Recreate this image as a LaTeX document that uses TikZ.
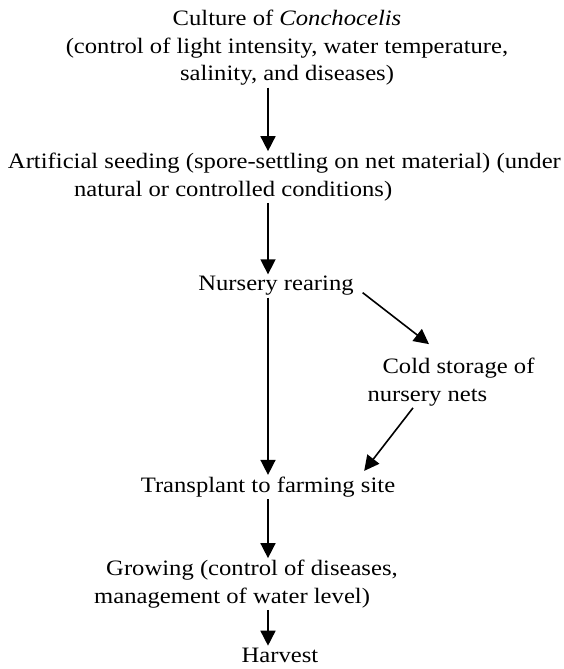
\documentclass[tikz,border=0pt]{standalone}
\usepackage{fontspec}
\setmainfont{Liberation Serif}[FakeStretch=1.12]
\usetikzlibrary{arrows.meta}

\begin{document}
\begin{tikzpicture}[x=1pt, y=-1pt,
    stage/.style={inner sep=2pt, outer sep=0pt, font=\fontsize{22}{27.5}\selectfont},
    flow/.style={-{Triangle[length=15pt,width=15pt]}, line width=1.6pt}]
    \useasboundingbox (0,0) rectangle (563,669);

    \coordinate (spine) at (268,0);

    \node[stage, align=center] (culture) at (287,48)
      {Culture of \textit{Conchocelis}\\(control of light intensity, water temperature,\\salinity, and diseases)};
    \node[stage, align=left, anchor=west] (seeding) at (6,177)
      {Artificial seeding (spore-settling on net material) (under\\\hspace*{66pt}natural or controlled conditions)};
    \node[stage] (nursery) at (276,286) {Nursery rearing};
    \node[stage, align=left] (cold) at (451,382)
      {\hspace*{15pt}Cold storage of\\nursery nets};
    \node[stage] (transplant) at (268,487) {Transplant to farming site};
    \node[stage, align=left] (growing) at (246,584)
      {\hspace*{12pt}Growing (control of diseases,\\management of water level)};
    \node[stage] (harvest) at (280,655) {Harvest};

    \draw[flow] (culture.south -| spine) -- (seeding.north -| spine);
    \draw[flow] (seeding.south -| spine) -- (nursery.north -| spine);
    \draw[flow] (nursery.south -| spine) -- (transplant.north -| spine);
    \draw[flow] ([shift={(7,-5)}]nursery.south east) -- ([shift={(-22,-12)}]cold.north);
    \draw[flow] ([shift={(-38,0)}]cold.south) -- ([shift={(-33,-4)}]transplant.north east);
    \draw[flow] (transplant.south -| spine) -- (growing.north -| spine);
    \draw[flow] (growing.south -| spine) -- (harvest.north -| spine);
  \end{tikzpicture}
\end{document}
